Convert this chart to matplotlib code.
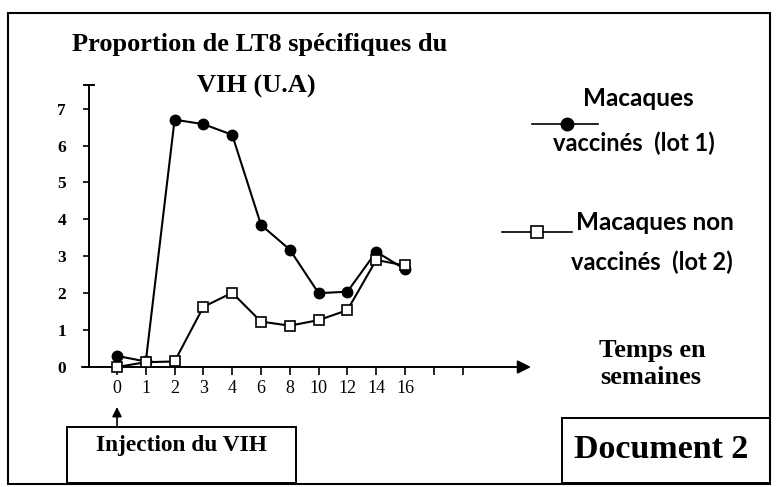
import matplotlib
matplotlib.use('Agg')
import matplotlib.pyplot as plt
from matplotlib.patches import Rectangle, FancyArrowPatch
from matplotlib.lines import Line2D
import numpy as np

# ---- data ----
weeks = ['0', '1', '2', '3', '4', '6', '8', '10', '12', '14', '16']
vaccinated = [0.3, 0.15, 6.7, 6.58, 6.29, 3.85, 3.18, 2.0, 2.04, 3.12, 2.65]
unvaccinated = [0.0, 0.13, 0.15, 1.63, 2.01, 1.23, 1.12, 1.27, 1.54, 2.9, 2.75]
y_ticks = [0, 1, 2, 3, 4, 5, 6, 7]
extra_ticks = [11, 12]

W, H = 776, 487
fig = plt.figure(figsize=(W / 100, H / 100), dpi=100)
fig.patch.set_facecolor('white')


def fx(px):
    return px / W


def fy(py):
    return 1 - py / H


SERIF = 'Liberation Serif'
SANS = 'Lato'

# ---- main axes ----
ax = fig.add_axes([fx(89), fy(367), fx(531) - fx(89), fy(85) - fy(367)])
ax.set_facecolor('none')
x = np.arange(len(weeks))
ax.set_xlim(-0.972, 14.375)
ax.set_ylim(0, 7.64)

for s in ['top', 'right', 'bottom']:
    ax.spines[s].set_visible(False)
ax.spines['left'].set_linewidth(1.4)

ax.plot(x, vaccinated, color='black', lw=1.5, marker='o', ms=7.5,
        mfc='black', mec='black', clip_on=False, zorder=3)
ax.plot(x, unvaccinated, color='black', lw=1.5, marker='s', ms=7.5,
        mfc='white', mec='black', mew=1.2, clip_on=False, zorder=4)

# x axis with arrow
ax.annotate('', xy=(14.375, 0), xytext=(-1.22, 0),
            arrowprops=dict(arrowstyle='-|>', color='black', lw=1.4,
                            mutation_scale=20, shrinkA=0, shrinkB=0),
            annotation_clip=False, zorder=2)
# top cross bar of y axis
ax.plot([-1.14, -0.80], [7.64, 7.64], color='black', lw=1.4, clip_on=False)

ax.set_xticks(list(x) + extra_ticks)
ax.set_xticklabels(weeks + [''] * len(extra_ticks), fontfamily=SERIF, fontsize=13)
ax.set_yticks(y_ticks)
ax.set_yticklabels([str(v) for v in y_ticks], fontfamily=SERIF, fontsize=12.5,
                   fontweight='bold')
ax.tick_params(axis='x', direction='out', length=5.5, width=1.2, pad=4)
ax.tick_params(axis='y', direction='out', length=4.5, width=1.2, pad=12)

# ---- titles and labels ----
fig.text(fx(260), fy(45), 'Proportion de LT8 spécifiques du', ha='center', va='center',
         fontfamily=SERIF, fontweight='bold', fontsize=19)
fig.text(fx(256), fy(86), 'VIH (U.A)', ha='center', va='center',
         fontfamily=SERIF, fontweight='bold', fontsize=19)

fig.text(fx(652), fy(350), 'Temps en', ha='center', va='center',
         fontfamily=SERIF, fontweight='bold', fontsize=19)
fig.text(fx(651), fy(378), 'semaines', ha='center', va='center',
         fontfamily=SERIF, fontweight='bold', fontsize=19)

# ---- legend (manual) ----
fig.add_artist(Line2D([fx(532), fx(598)], [fy(124), fy(124)], color='black', lw=1.2))
fig.add_artist(Line2D([fx(567)], [fy(124)], marker='o', ms=9, color='black'))
fig.text(fx(638), fy(98), 'Macaques', ha='center', va='center',
         fontfamily=SANS, fontweight='bold', fontsize=17.5)
fig.text(fx(634), fy(143), 'vaccinés  (lot 1)', ha='center', va='center',
         fontfamily=SANS, fontweight='bold', fontsize=17)

fig.add_artist(Line2D([fx(502), fx(572)], [fy(232), fy(232)], color='black', lw=1.2))
fig.add_artist(Line2D([fx(537)], [fy(232)], marker='s', ms=9, mfc='white',
                      mec='black', mew=1.2, color='black'))
fig.text(fx(655), fy(222), 'Macaques non', ha='center', va='center',
         fontfamily=SANS, fontweight='bold', fontsize=17.5)
fig.text(fx(652), fy(262), 'vaccinés  (lot 2)', ha='center', va='center',
         fontfamily=SANS, fontweight='bold', fontsize=17)

# ---- frames ----
fig.add_artist(Rectangle((fx(8), fy(484)), fx(770) - fx(8), fy(13) - fy(484),
                         fill=False, ec='black', lw=1.5))
fig.add_artist(Rectangle((fx(67), fy(483)), fx(296) - fx(67), fy(427) - fy(483),
                         fill=False, ec='black', lw=1.4))
fig.text(fx(182), fy(446), 'Injection du VIH', ha='center', va='center',
         fontfamily=SERIF, fontweight='bold', fontsize=16.8)
fig.add_artist(Rectangle((fx(562), fy(483)), fx(770) - fx(562), fy(418) - fy(483),
                         fill=False, ec='black', lw=1.4))
fig.text(fx(661), fy(449), 'Document 2', ha='center', va='center',
         fontfamily=SERIF, fontweight='bold', fontsize=24.5)

# arrow pointing to injection time
fig.add_artist(FancyArrowPatch((fx(117), fy(426)), (fx(117), fy(407)),
                               transform=fig.transFigure, arrowstyle='-|>',
                               mutation_scale=14, color='black', lw=1.2,
                               shrinkA=0, shrinkB=0))

fig.savefig('out.png', dpi=100, facecolor='white')
